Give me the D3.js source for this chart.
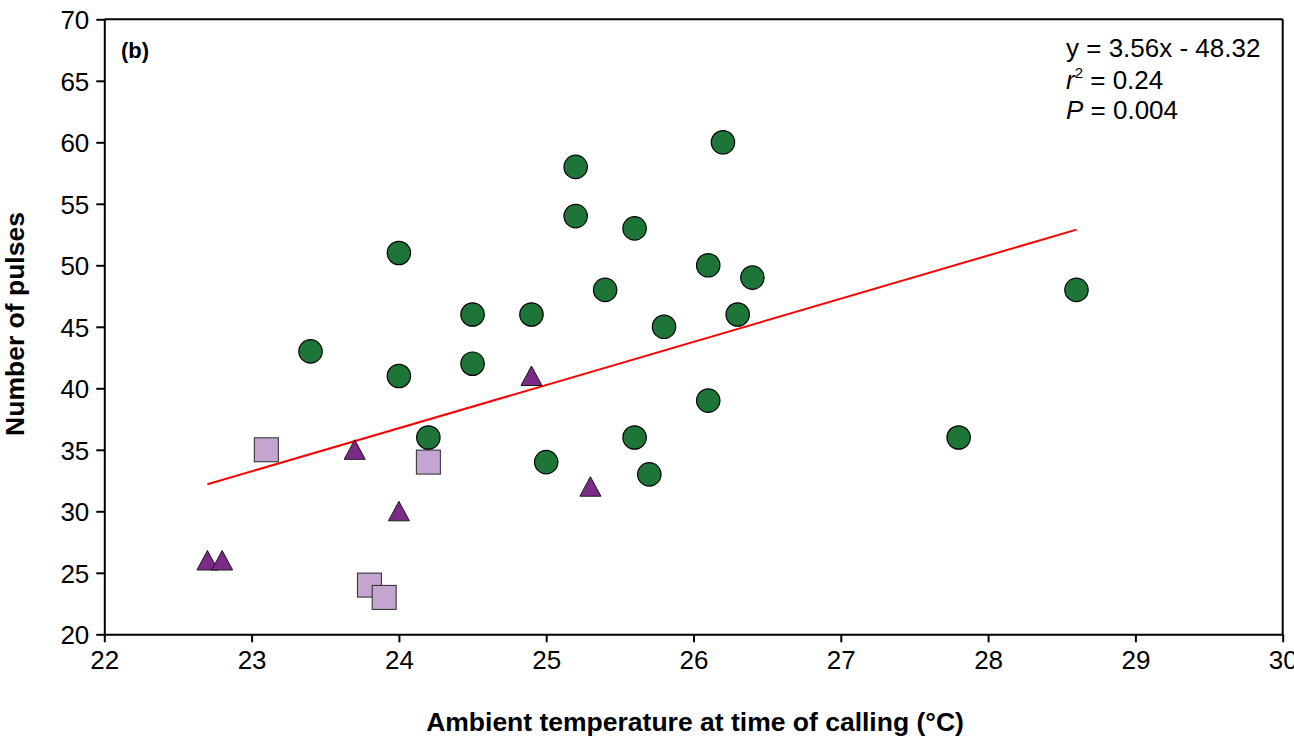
<!DOCTYPE html>
<html>
<head>
<meta charset="utf-8">
<script src="https://cdn.jsdelivr.net/npm/d3@7"></script>
<style>
  html, body { margin: 0; padding: 0; background: #fff; }
  svg { display: block; font-family: "Liberation Sans", Arial, sans-serif; }
</style>
</head>
<body>
<svg id="chart" width="1294" height="741"></svg>
<script>
// ---- Data ----
const circleTemp   = [23.4, 24.0, 24.0, 24.2, 24.5, 24.5, 24.9, 25.0, 25.2, 25.2, 25.4, 25.6, 25.6, 25.7, 25.8, 26.1, 26.1, 26.2, 26.3, 26.4, 27.8, 28.6];
const circlePulses = [43,   51,   41,   36,   46,   42,   46,   34,   58,   54,   48,   53,   36,   33,   45,   50,   39,   60,   46,   49,   36,   48];

const triangleTemp   = [22.7, 22.8, 23.7, 24.0, 24.9, 25.3];
const trianglePulses = [26,   26,   35,   30,   41,   32];

const squareTemp   = [23.1, 23.8, 23.9, 24.2];
const squarePulses = [35,   24,   23,   34];

const fitTemp   = [22.7, 28.6];
const fitPulses = [32.2, 52.9];

const xTicks = [22, 23, 24, 25, 26, 27, 28, 29, 30];
const yTicks = [20, 25, 30, 35, 40, 45, 50, 55, 60, 65, 70];

const panelLabel = "(b)";
const eqLine1 = "y = 3.56x - 48.32";
const r2Value = " = 0.24";
const pValue  = " = 0.004";
const xTitle = "Ambient temperature at time of calling (°C)";
const yTitle = "Number of pulses";

(function () {
// ---- Layout ----
const svg = d3.select("#chart");
const pLeft = 104.3, pRight = 1282.7, pTop = 19.3, pBottom = 634.3;

const x = d3.scaleLinear().domain([22, 30]).range([pLeft, pRight]);
const y = d3.scaleLinear().domain([20, 70]).range([pBottom, pTop]);

// frame (top and right)
svg.append("line").attr("x1", pLeft).attr("x2", pRight).attr("y1", pTop).attr("y2", pTop)
  .attr("stroke", "#000").attr("stroke-width", 2);
svg.append("line").attr("x1", pRight).attr("x2", pRight).attr("y1", pTop).attr("y2", pBottom)
  .attr("stroke", "#000").attr("stroke-width", 2);

// axes
const xAxis = d3.axisBottom(x).tickValues(xTicks).tickFormat(d3.format("d")).tickSizeOuter(0).tickSizeInner(8).tickPadding(8);
const yAxis = d3.axisLeft(y).tickValues(yTicks).tickFormat(d3.format("d")).tickSizeOuter(0).tickSizeInner(8).tickPadding(7);

const gx = svg.append("g").attr("transform", `translate(0,${pBottom})`).call(xAxis);
const gy = svg.append("g").attr("transform", `translate(${pLeft},0)`).call(yAxis);
[gx, gy].forEach(g => {
  g.select(".domain").attr("stroke", "#000").attr("stroke-width", 2);
  g.selectAll(".tick line").attr("stroke", "#000").attr("stroke-width", 2);
  g.selectAll(".tick text").attr("fill", "#000")
    .style("font-family", "'Liberation Sans', Arial, sans-serif").style("font-size", "26px");
});
gy.selectAll(".tick text").attr("dy", "0.36em");

// regression line
svg.append("line")
  .attr("x1", x(fitTemp[0])).attr("y1", y(fitPulses[0]))
  .attr("x2", x(fitTemp[1])).attr("y2", y(fitPulses[1]))
  .attr("stroke", "#ff0000").attr("stroke-width", 2);

// squares
const sq = 24;
svg.append("g").selectAll("rect")
  .data(squareTemp.map((t, i) => ({t, p: squarePulses[i]})))
  .join("rect")
  .attr("x", d => x(d.t) - sq / 2).attr("y", d => y(d.p) - sq / 2)
  .attr("width", sq).attr("height", sq)
  .attr("fill", "#c3a5cf").attr("stroke", "#2a2a2a").attr("stroke-width", 1);

// triangles
svg.append("g").selectAll("path")
  .data(triangleTemp.map((t, i) => ({t, p: trianglePulses[i]})))
  .join("path")
  .attr("transform", d => `translate(${x(d.t)},${y(d.p)})`)
  .attr("d", "M0,-10L10.5,9.5L-10.5,9.5Z")
  .attr("fill", "#7b2a87").attr("stroke", "#1a1a1a").attr("stroke-width", 1);

// circles
svg.append("g").selectAll("circle")
  .data(circleTemp.map((t, i) => ({t, p: circlePulses[i]})))
  .join("circle")
  .attr("cx", d => x(d.t)).attr("cy", d => y(d.p)).attr("r", 11.7)
  .attr("fill", "#1e7538").attr("stroke", "#000").attr("stroke-width", 1.2);

// panel label
svg.append("text").attr("x", 121).attr("y", 58)
  .attr("font-weight", "bold").attr("font-size", 22).text(panelLabel);

// equation block
const eq = svg.append("g").attr("font-size", 26).attr("fill", "#000");
eq.append("text").attr("x", 1066).attr("y", 57).text(eqLine1);
const t2 = eq.append("text").attr("x", 1066).attr("y", 89);
t2.append("tspan").attr("font-style", "italic").text("r");
t2.append("tspan").attr("font-size", 15).attr("dy", -11).text("2");
t2.append("tspan").attr("dy", 11).text(r2Value);
const t3 = eq.append("text").attr("x", 1066).attr("y", 119);
t3.append("tspan").attr("font-style", "italic").text("P");
t3.append("tspan").text(pValue);

// axis titles
svg.append("text").attr("x", 695).attr("y", 731)
  .attr("text-anchor", "middle").attr("font-weight", "bold").attr("font-size", 26.5).text(xTitle);
svg.append("text").attr("transform", `translate(24,324) rotate(-90)`)
  .attr("text-anchor", "middle").attr("font-weight", "bold").attr("font-size", 26.5).text(yTitle);
})();
</script>
</body>
</html>
